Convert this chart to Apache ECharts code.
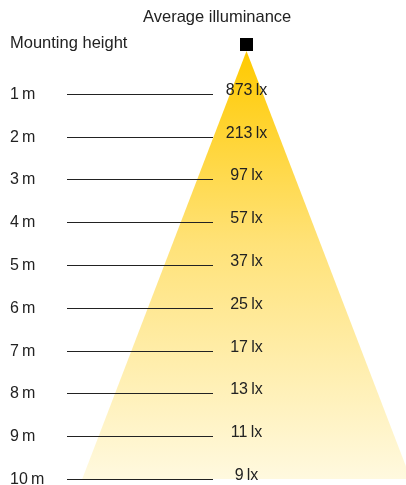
<!DOCTYPE html>
<html><head><meta charset="utf-8">
<script src="https://cdn.jsdelivr.net/npm/echarts@6/dist/echarts.min.js"></script>
<style>html,body{margin:0;padding:0;background:#fff}#c{width:406px;height:485px}</style>
</head><body><div id="c"></div>
<script>
// Data
const heights = [1, 2, 3, 4, 5, 6, 7, 8, 9, 10];
const heightLabels = ['1\u2009m', '2\u2009m', '3\u2009m', '4\u2009m', '5\u2009m', '6\u2009m', '7\u2009m', '8\u2009m', '9\u2009m', '10\u2009m'];
const illuminance = [873, 213, 97, 57, 37, 25, 17, 13, 11, 9];
const unit = 'lx';
const beamHalfAngleDeg = 21;
const maxHeight = 10;
const titleText = 'Average illuminance';
const axisTitleText = 'Mounting height';

const FONT = '"Liberation Sans", Arial, sans-serif';
const TXT = '#222';
const chart = echarts.init(document.getElementById('c'), null, {renderer: 'canvas'});
const pxPerM = 428 / maxHeight;
const xMin = -246.5 / pxPerM, xMax = 159.5 / pxPerM;
const tanA = Math.tan(beamHalfAngleDeg * Math.PI / 180);

chart.setOption({
  animation: false,
  grid: {left: 0, right: 0, top: 51, bottom: 6},
  xAxis: {type: 'value', min: xMin, max: xMax, show: false},
  yAxis: {type: 'value', min: 0, max: maxHeight, inverse: true, show: false},
  graphic: [
    {type: 'text', left: 143, top: 9, style: {text: titleText, font: '16.5px ' + FONT, fill: TXT}},
    {type: 'text', left: 10, top: 35, style: {text: axisTitleText, font: '16.5px ' + FONT, fill: TXT}}
  ],
  series: [
    {
      type: 'custom', clip: false, silent: true,
      data: [[0, maxHeight]],
      renderItem: function (params, api) {
        const h = api.value(1);
        const apex = api.coord([0, 0]);
        const l = api.coord([-h * tanA, h]);
        const r = api.coord([h * tanA, h]);
        return {
          type: 'group',
          children: [
            {type: 'polygon', shape: {points: [apex, l, r]},
             style: {fill: new echarts.graphic.LinearGradient(0, 0, 0, 1, [
               {offset: 0, color: '#FFCA00'}, {offset: 0.45, color: '#FFE278'}, {offset: 1, color: '#FFF9DF'}])}},
            {type: 'rect', shape: {x: apex[0] - 6.5, y: apex[1] - 13, width: 13, height: 13}, style: {fill: '#000'}}
          ]
        };
      }
    },
    {
      type: 'custom', clip: false, silent: true,
      data: heights.map((h, i) => [0, h, illuminance[i], i]),
      renderItem: function (params, api) {
        const h = api.value(1);
        const v = api.value(2);
        const i = api.value(3);
        const p = api.coord([0, h]);
        const y = Math.round(p[1]) + 0.5;
        return {
          type: 'group',
          children: [
            {type: 'line', shape: {x1: 67, y1: y, x2: 213, y2: y}, style: {stroke: '#222', lineWidth: 1}},
            {type: 'text', x: 10, y: y, style: {text: heightLabels[i], font: '16px ' + FONT, fill: TXT, verticalAlign: 'middle', align: 'left'}},
            {type: 'text', x: p[0], y: y - 4, style: {text: v + '\u2009' + unit, font: '16px ' + FONT, fill: TXT, verticalAlign: 'middle', align: 'center'}}
          ]
        };
      }
    }
  ]
});
</script>
</body></html>
